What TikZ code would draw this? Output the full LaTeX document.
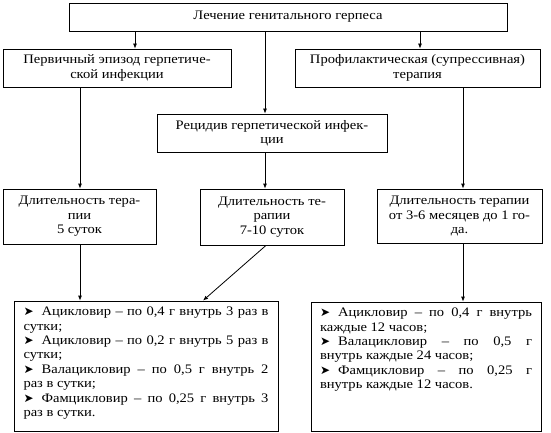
\documentclass[tikz,border=0pt]{standalone}
\usepackage{fontspec}
\setmainfont{Liberation Serif}[FakeStretch=1.12]
\newfontfamily\djv{DejaVu Sans}
\usetikzlibrary{arrows.meta}
\newcommand\fs{\fontsize{13pt}{14.4pt}\selectfont}
\newcommand\jl[1]{\makebox[\linewidth][s]{#1}}
\newcommand\bul{{\djv\fontsize{12pt}{12pt}\selectfont ➤}\hspace{8pt}}
\begin{document}
\begin{tikzpicture}[x=1pt,y=-1pt,
  box/.style={draw, line width=0.8pt, inner sep=0pt, align=center, font=\fs},
  arr/.style={-{Latex[length=5pt,width=4pt]}, line width=0.8pt}]
\useasboundingbox (0,0) rectangle (551,433);
\fill[white] (0,0) rectangle (551,433);
% boxes
\node[box, minimum width=438pt, minimum height=28pt] (top) at (288,17) {Лечение генитального герпеса};
\node[box, minimum width=228pt, minimum height=38pt] (prim) at (117,68) {Первичный эпизод герпетиче-\\ской инфекции};
\node[box, minimum width=245pt, minimum height=38pt] (proph) at (417.5,68) {Профилактическая (супрессивная)\\терапия};
\node[box, minimum width=230pt, minimum height=38pt] (rec) at (272,133) {Рецидив герпетической инфек-\\ции};
\node[box, minimum width=153pt, minimum height=55pt] (d1) at (79.5,216.5) {Длительность тера-\\пии\\5 суток};
\node[box, minimum width=144pt, minimum height=56pt] (d2) at (272,217) {Длительность те-\\рапии\\7-10 суток};
\node[box, minimum width=165pt, minimum height=54pt] (d3) at (459.5,216) {Длительность терапии\\от 3-6 месяцев до 1 го-\\да.};
\node[box, minimum width=264pt, minimum height=130pt] (b1) at (146,366) {\parbox[c][130pt][t]{245pt}{\fs\vspace*{6pt}%
\jl{\bul Ацикловир – по 0,4 г внутрь 3 раз в}\\
сутки;\\
\jl{\bul Ацикловир – по 0,2 г внутрь 5 раз в}\\
сутки;\\
\jl{\bul Валацикловир – по 0,5 г внутрь 2}\\
раз в сутки;\\
\jl{\bul Фамцикловир – по 0,25 г внутрь 3}\\
раз в сутки.}};
\node[box, minimum width=230pt, minimum height=129pt] (b2) at (426,366.5) {\parbox[c][129pt][t]{212pt}{\fs\vspace*{6pt}%
\jl{\bul Ацикловир – по 0,4 г внутрь}\\
каждые 12 часов;\\
\jl{\bul Валацикловир – по 0,5 г}\\
внутрь каждые 24 часов;\\
\jl{\bul Фамцикловир – по 0,25 г}\\
внутрь каждые 12 часов.}};
% helper x positions
\coordinate (xa) at (135,0);
\coordinate (xb) at (420,0);
\coordinate (xc) at (265,0);
\coordinate (xd) at (80,0);
\coordinate (xe) at (463,0);
\coordinate (xf) at (203,0);
\coordinate (xg) at (266,0);
% connectors
\draw[arr] (xa |- top.south) -- (xa |- prim.north);
\draw[arr] (xb |- top.south) -- (xb |- proph.north);
\draw[arr] (xc |- top.south) -- (xc |- rec.north);
\draw[arr] (xd |- prim.south) -- (xd |- d1.north);
\draw[arr] (xc |- rec.south) -- (xc |- d2.north);
\draw[arr] (xe |- proph.south) -- (xe |- d3.north);
\draw[arr] (xd |- d1.south) -- (xd |- b1.north);
\draw[arr] (xg |- d2.south) -- (xf |- b1.north);
\draw[arr] (xe |- d3.south) -- (xe |- b2.north);
\end{tikzpicture}
\end{document}
